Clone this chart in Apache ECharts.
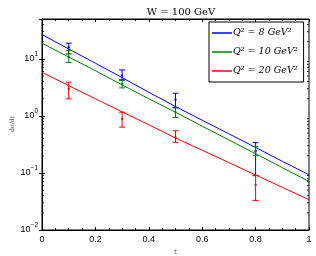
<!DOCTYPE html>
<html><head><meta charset="utf-8">
<script src="https://cdn.jsdelivr.net/npm/echarts@6/dist/echarts.min.js"></script>
<style>html,body{margin:0;padding:0;background:#fff}#c{width:316px;height:256px}</style>
</head><body><div id="c"></div>
<script>
// ---- data ----
const tGrid = [0, 0.1, 0.2, 0.3, 0.4, 0.5, 0.6, 0.7, 0.8, 0.9, 1.0];
const curveQ8  = [26.7, 14.9, 8.4, 4.7, 2.6, 1.46, 0.84, 0.485, 0.28, 0.16, 0.093];
const curveQ10 = [18.8, 10.8, 6.2, 3.5, 2.0, 1.16, 0.66, 0.38, 0.217, 0.124, 0.071];
const curveQ20 = [5.8, 3.4, 2.0, 1.18, 0.70, 0.41, 0.25, 0.152, 0.092, 0.056, 0.034];
const tData = [0.1, 0.3, 0.5, 0.8];
const dataQ8  = [16.0, 5.1, 1.93, 0.24];
const lowQ8   = [12.2, 4.3, 1.4, 0.09];
const highQ8  = [18.8, 6.4, 2.5, 0.34];
const dataQ10 = [10.7, 3.64, 1.16, 0.24];
const lowQ10  = [8.6, 3.1, 0.94, 0.20];
const highQ10 = [14.0, 4.2, 1.38, 0.29];
const dataQ20 = [2.98, 0.886, 0.42, 0.062];
const lowQ20  = [1.99, 0.636, 0.344, 0.033];
const highQ20 = [3.9, 1.16, 0.55, 0.09];
const seriesNames = ['Q² = 8 GeV²', 'Q² = 10 GeV²', 'Q² = 20 GeV²'];
const colors = ['#0000ff', '#008000', '#ff0000'];
const xTicks = [0, 0.2, 0.4, 0.6, 0.8, 1];
const yMin = 0.01, yMax = 50;
const yTitle = 'dσ/dt';
const yMinorTicks = [];
[0.01, 0.1, 1, 10].forEach(d => { for (let k = 2; k <= 9; k++) { const v = d * k; if (v < yMax) yMinorTicks.push(v); } });

// ---- build ----
const zip = (a, b) => a.map((v, i) => [v, b[i]]);
const errData = (c, lo, hi) => tData.map((t, i) => [t, c[i], lo[i], hi[i]]);

function errRender(color) {
  return function (params, api) {
    const t = api.value(0);
    const pc = api.coord([t, api.value(1)]);
    const pl = api.coord([t, api.value(2)]);
    const ph = api.coord([t, api.value(3)]);
    const w = 3;
    return {
      type: 'group',
      children: [
        { type: 'line', shape: { x1: pl[0], y1: pl[1], x2: ph[0], y2: ph[1] }, style: { stroke: color, lineWidth: 1 } },
        { type: 'line', shape: { x1: pl[0] - w, y1: pl[1], x2: pl[0] + w, y2: pl[1] }, style: { stroke: color, lineWidth: 1 } },
        { type: 'line', shape: { x1: ph[0] - w, y1: ph[1], x2: ph[0] + w, y2: ph[1] }, style: { stroke: color, lineWidth: 1 } },
        { type: 'rect', shape: { x: pc[0] - 1, y: pc[1] - 1, width: 2, height: 2 }, style: { fill: color } }
      ]
    };
  };
}

function minorRender(params, api) {
  const v = api.value(0);
  const pl = api.coord([0, v]);
  const pr = api.coord([1, v]);
  return {
    type: 'group',
    children: [
      { type: 'line', shape: { x1: pl[0], y1: pl[1], x2: pl[0] + 2, y2: pl[1] }, style: { stroke: '#000', lineWidth: 0.8 } },
      { type: 'line', shape: { x1: pr[0] - 2, y1: pr[1], x2: pr[0], y2: pr[1] }, style: { stroke: '#000', lineWidth: 0.8 } }
    ]
  };
}

const supMap = { '-2': '−2', '-1': '−1', '0': '0', '1': '1' };
const chart = echarts.init(document.getElementById('c'), null, { renderer: 'canvas' });
const axisLine = { show: true, lineStyle: { color: '#000', width: 1 } };
const option = {
  animation: false,
  backgroundColor: '#fff',
  title: {
    text: 'W = 100 GeV', left: 176, top: 2, textAlign: 'center',
    textStyle: { fontFamily: 'DejaVu Serif', fontSize: 10, fontWeight: 'normal', color: '#000' }
  },
  graphic: [{
    type: 'text', x: 12, y: 124, rotation: Math.PI / 2,
    style: { text: yTitle, fontFamily: 'DejaVu Serif', fontSize: 6, fill: '#555', align: 'center', verticalAlign: 'middle' }
  }],
  grid: { left: 42, right: 7, top: 19, bottom: 26, show: true, borderColor: '#000', borderWidth: 1, backgroundColor: '#fff', containLabel: false, outerBoundsMode: 'none' },
  legend: {
    orient: 'vertical', left: 209, top: 22, itemWidth: 20, itemHeight: 1.5, itemGap: 9,
    icon: 'rect', borderColor: '#000', borderWidth: 1, padding: [6, 6, 6, 3],
    backgroundColor: '#fff',
    data: seriesNames,
    textStyle: { fontFamily: 'DejaVu Serif', fontStyle: 'italic', fontSize: 9.5, color: '#000', padding: [0, 0, 0, -4] }
  },
  xAxis: [{
    type: 'value', min: 0, max: 1, interval: 0.2,
    axisLine, axisTick: { inside: true, length: 3, lineStyle: { color: '#000' } },
    minorTick: { show: true, splitNumber: 4, length: 2, lineStyle: { color: '#000' } },
    splitLine: { show: false },
    axisLabel: { color: '#000', fontFamily: 'Liberation Sans', fontSize: 9, margin: 5, formatter: v => (v === 0 || v === 1) ? String(v) : v.toFixed(1) },
    name: 't', nameLocation: 'middle', nameGap: 16, nameTextStyle: { fontFamily: 'DejaVu Serif', fontSize: 7, color: '#555' }
  }, {
    type: 'value', min: 0, max: 1, interval: 0.2, position: 'top',
    axisLine, axisTick: { inside: true, length: 3, lineStyle: { color: '#000' } },
    minorTick: { show: true, splitNumber: 4, length: 2, lineStyle: { color: '#000' } },
    splitLine: { show: false }, axisLabel: { show: false }
  }],
  yAxis: [{
    type: 'log', min: yMin, max: yMax, logBase: 10,
    axisLine, axisTick: { inside: true, length: 3, lineStyle: { color: '#000' } },
    splitLine: { show: false },
    axisLabel: {
      color: '#000', fontFamily: 'Liberation Sans', fontSize: 9, margin: 4, showMaxLabel: false,
      formatter: v => { const e = Math.round(Math.log10(v)); if (Math.abs(Math.log10(v) - e) > 1e-6) return ''; return '10{s|' + (supMap[String(e)] || e) + '}'; },
      rich: { s: { fontSize: 6.5, verticalAlign: 'top', padding: [0, 0, 9, 0], fontFamily: 'Liberation Sans', color: '#000' } }
    }
  }, {
    type: 'log', min: yMin, max: yMax, logBase: 10, position: 'right',
    axisLine, axisTick: { inside: true, length: 3, lineStyle: { color: '#000' } },
    splitLine: { show: false }, axisLabel: { show: false }
  }],
  series: [
    ...seriesNames.map((n, i) => ({
      name: n, type: 'line', symbol: 'none', lineStyle: { color: colors[i], width: 1 }, itemStyle: { color: colors[i] },
      data: zip(tGrid, [curveQ8, curveQ10, curveQ20][i]), z: 3
    })),
    { type: 'custom', name: seriesNames[0], renderItem: errRender(colors[0]), data: errData(dataQ8, lowQ8, highQ8), z: 4 },
    { type: 'custom', name: seriesNames[1], renderItem: errRender(colors[1]), data: errData(dataQ10, lowQ10, highQ10), z: 4 },
    { type: 'custom', name: seriesNames[2], renderItem: errRender(colors[2]), data: errData(dataQ20, lowQ20, highQ20), z: 4 },
    { type: 'custom', renderItem: minorRender, data: yMinorTicks.map(v => [v]), encode: { y: 0 }, z: 5, silent: true }
  ]
};
chart.setOption(option);
</script></body></html>
